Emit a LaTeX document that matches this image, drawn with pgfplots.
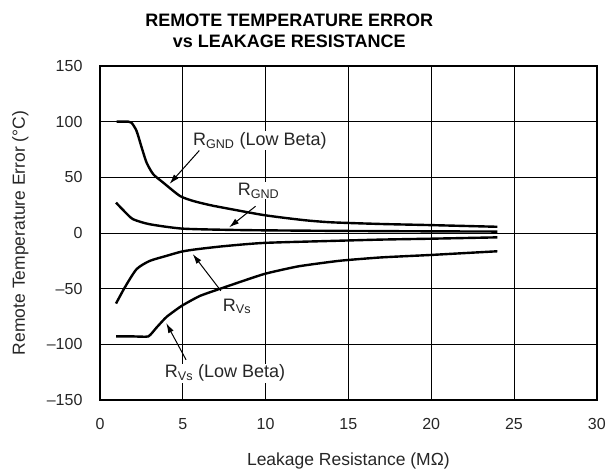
\documentclass[border=0pt]{standalone}
\usepackage{pgfplots}
\pgfplotsset{compat=1.18}
\usetikzlibrary{arrows.meta}
\usepackage{fontspec}
\setmainfont{Liberation Sans}
\begin{document}
\begin{tikzpicture}[x=1pt,y=1pt]
\begin{axis}[
  name=ax,
  scale only axis,
  width=497pt, height=334pt,
  xmin=0, xmax=30, ymin=-150, ymax=150,
  xtick={0,5,...,30},
  ytick={-150,-100,...,150},
  yticklabels={–150,–100,–50,0,50,100,150},
  /pgf/number format/assume math mode=true,
  tick label style={font=\fontsize{16}{18}\selectfont, black!85},
  xticklabel style={yshift=-15pt},
  yticklabel style={xshift=-14pt},
  tick style={draw=none},
  grid=major,
  major grid style={black, line width=0.8pt},
  axis line style={black, line width=2pt},
  xlabel={Leakage Resistance (M\symbol{"03A9})},
  ylabel={Remote Temperature Error (°C)},
  label style={font=\fontsize{17.5}{19}\selectfont, black!85},
  xlabel style={at={(rel axis cs:0.5,-0.198)}, anchor=base},
  ylabel style={at={(rel axis cs:-0.160,0.5)}, anchor=center},
  clip=false,
]
\addplot[black, line width=2.4pt, smooth, tension=0.4] coordinates {
(1.0,100) (1.7,100) (1.91,99) (2.21,91.6) (2.52,76.7) (2.82,63) (3.22,52.7) (3.82,45.2) (4.83,33.2) (5.63,28.7) (6.64,25) (7.5,22.5) (9.9,16) (12.3,11.5) (14,9.5) (17,8) (20,7) (24,5.5)};
\addplot[black, line width=2.4pt, smooth, tension=0.4] coordinates {
(0.97,27.2) (1.5,19) (2.0,12.3) (3.0,7.8) (4.93,3.9) (7.5,2.8) (10,2.3) (14.5,1.8) (20,1.4) (24,1.2)};
\addplot[black, line width=2.4pt, smooth, tension=0.4] coordinates {
(0.97,-63.5) (1.5,-49) (2.21,-32.6) (3.0,-25.2) (4.0,-20.7) (4.93,-16.8) (5.83,-14.7) (7.5,-11.9) (9.9,-9) (14,-7.2) (17,-6) (20,-5.2) (24,-4)};
\addplot[black, line width=2.4pt, smooth, tension=0.3] coordinates {
(0.97,-93) (2.0,-93) (2.92,-93) (3.42,-85) (4.02,-75.5) (4.93,-65.6) (6.04,-56.6) (7.49,-49) (9.9,-37) (12,-30) (14.5,-25) (17,-22) (20,-19.8) (24,-16.5)};
\draw[-{Latex[length=10pt,width=6pt]}, line width=1pt] (axis cs:6.0,74) -- (axis cs:4.2,44);
\draw[-{Latex[length=10pt,width=6pt]}, line width=1pt] (axis cs:9.4,24) -- (axis cs:7.8,5);
\draw[-{Latex[length=10pt,width=6pt]}, line width=1pt] (axis cs:7.3,-52) -- (axis cs:5.6,-19);
\draw[-{Latex[length=10pt,width=6pt]}, line width=1pt] (axis cs:5.2,-114) -- (axis cs:4.0,-81);
\node[font=\fontsize{18}{20}\selectfont, black!85, anchor=west, fill=white, inner sep=1pt] at (axis cs:5.55,83) {R\textsubscript{GND} (Low Beta)};
\node[font=\fontsize{18}{20}\selectfont, black!85, anchor=west, fill=white, inner sep=1pt] at (axis cs:8.25,38) {R\textsubscript{GND}};
\node[font=\fontsize{18}{20}\selectfont, black!85, anchor=west, fill=white, inner sep=1pt] at (axis cs:7.35,-66) {R\textsubscript{Vs}};
\node[font=\fontsize{18}{20}\selectfont, black!85, anchor=west, fill=white, inner sep=1pt] at (axis cs:3.85,-126) {R\textsubscript{Vs} (Low Beta)};
\node[font=\fontsize{18}{20}\bfseries, anchor=base] at (rel axis cs:0.381,1.1168) {REMOTE TEMPERATURE ERROR};
\node[font=\fontsize{18}{20}\bfseries, anchor=base] at (rel axis cs:0.381,1.0539) {vs LEAKAGE RESISTANCE};
\coordinate (bl) at (rel axis cs:-0.2012,-0.2096);
\coordinate (tr) at (rel axis cs:1.0241,1.1976);
\end{axis}
\useasboundingbox (bl) rectangle (tr);
\end{tikzpicture}
\end{document}
